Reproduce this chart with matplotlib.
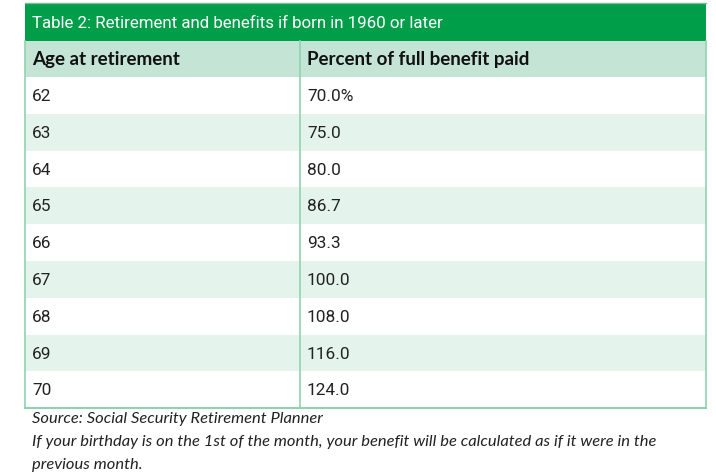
import matplotlib
matplotlib.use('Agg')
from matplotlib import pyplot as plt
from matplotlib.patches import Rectangle

title = 'Table 2: Retirement and benefits if born in 1960 or later'
headers = ['Age at retirement', 'Percent of full benefit paid']
ages = ['62', '63', '64', '65', '66', '67', '68', '69', '70']
percents = ['70.0%', '75.0', '80.0', '86.7', '93.3', '100.0', '108.0', '116.0', '124.0']
notes = ['Source: Social Security Retirement Planner',
         'If your birthday is on the 1st of the month, your benefit will be calculated as if it were in the',
         'previous month.']

green = '#009e49'
header_bg = '#c4e5d5'
alt_bg = '#e4f4ec'
border = '#8fd3ae'

fig = plt.figure(figsize=(7.16, 4.73), dpi=100)
ax = fig.add_axes([0, 0, 1, 1])
ax.set_xlim(0, 716)
ax.set_ylim(473, 0)
ax.axis('off')

left, right, split = 25, 706, 300
top, title_h, head_h, row_h = 3, 38, 36, 36.8

narrow = ['Roboto', 'DejaVu Sans']

# title bar
ax.add_patch(Rectangle((left, top), right - left, title_h, color=green, lw=0))
ax.text(left + 7, top + title_h / 2 + 1, title, color='white', fontsize=12.2,
        family=narrow, va='center', ha='left')

# header row
y0 = top + title_h
ax.add_patch(Rectangle((left, y0), right - left, head_h, color=header_bg, lw=0))
ax.text(left + 7, y0 + head_h / 2, headers[0], fontsize=13.5, fontweight='bold',
        family='Lato', va='center', color='#111111')
ax.text(split + 7, y0 + head_h / 2, headers[1], fontsize=13.5, fontweight='bold',
        family='Lato', va='center', color='#111111')

# body rows
y = y0 + head_h
for i, (a, p) in enumerate(zip(ages, percents)):
    if i % 2 == 1:
        ax.add_patch(Rectangle((left, y), right - left, row_h, color=alt_bg, lw=0))
    ax.text(left + 7, y + row_h / 2 + 1, a, fontsize=12.4, family=narrow,
            va='center', color='#222222')
    ax.text(split + 7, y + row_h / 2 + 1, p, fontsize=12.4, family=narrow,
            va='center', color='#222222')
    y += row_h

# borders
ax.plot([left, left], [y0, y], color=border, lw=1.2)
ax.plot([right, right], [y0, y], color=border, lw=1.2)
ax.plot([split, split], [y0, y], color=border, lw=1.2)
ax.plot([left, right], [y, y], color=border, lw=1.5)
ax.plot([left, right], [top, top], color='#7fb89a', lw=1.0)

# footnotes
for k, line in enumerate(notes):
    ax.text(left + 7, y + 11 + k * 23, line, fontsize=11.85, style='italic',
            family='Lato', va='center', color='#222222')

fig.savefig('out.png', dpi=100)
